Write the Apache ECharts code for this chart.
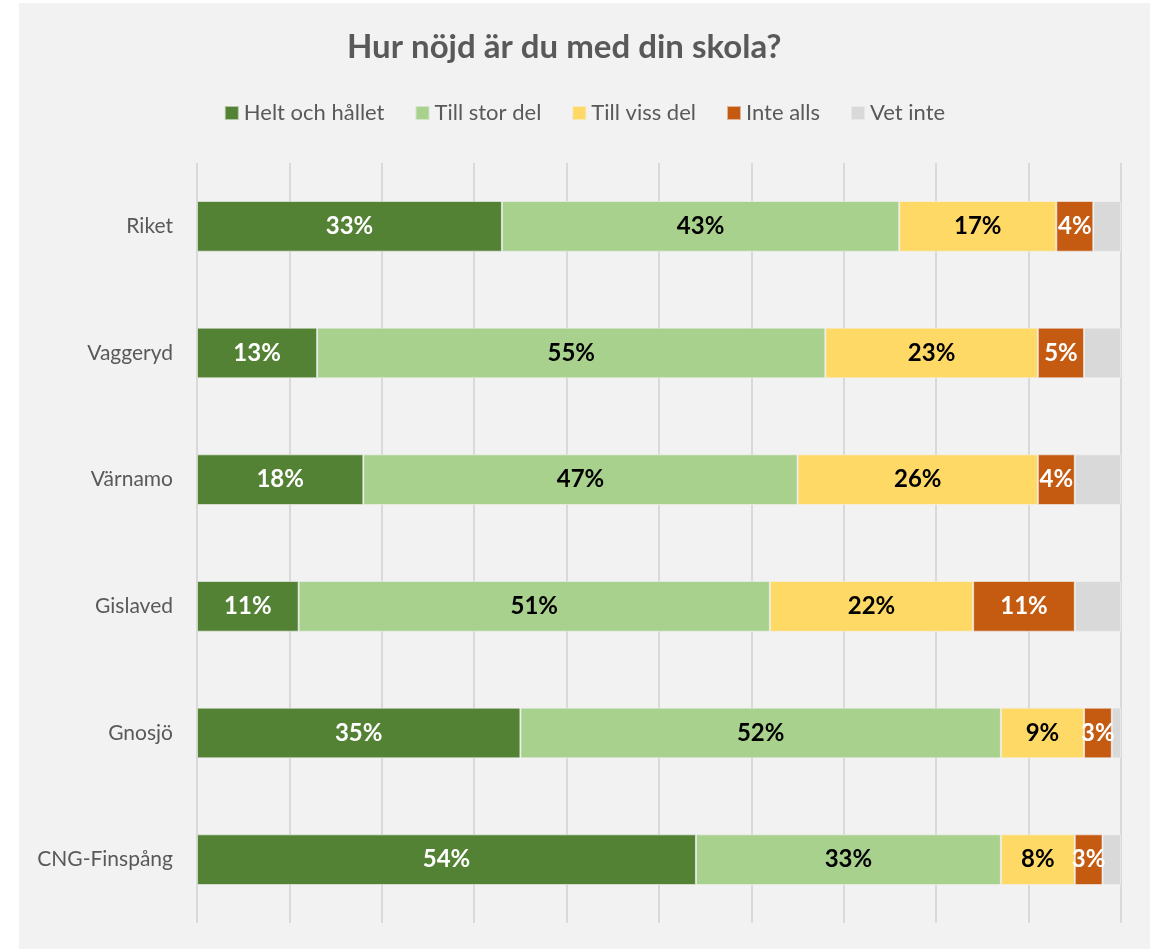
<!DOCTYPE html>
<html>
<head>
<meta charset="utf-8">
<script src="https://cdn.jsdelivr.net/npm/echarts@6/dist/echarts.min.js"></script>
<style>
  html, body { margin: 0; padding: 0; background: #ffffff; }
  #panel { position: absolute; left: 19px; top: 3px; width: 1131px; height: 946px; background: #f2f2f2; }
  #chart { width: 100%; height: 100%; }
</style>
</head>
<body>
<div id="panel"><div id="chart"></div></div>
<script>
// Survey answers per school, in percent
const categories = ['Riket', 'Vaggeryd', 'Värnamo', 'Gislaved', 'Gnosjö', 'CNG-Finspång'];
const seriesNames = ['Helt och hållet', 'Till stor del', 'Till viss del', 'Inte alls', 'Vet inte'];
const heltOchHallet = [33, 13, 18, 11, 35, 54];
const tillStorDel   = [43, 55, 47, 51, 52, 33];
const tillVissDel   = [17, 23, 26, 22, 9, 8];
const inteAlls      = [4, 5, 4, 11, 3, 3];
const vetInte       = [3, 4, 5, 5, 1, 2];

const colors = ['#548235', '#A9D18E', '#FFD966', '#C55A11', '#D9D9D9'];
const labelColors = ['#ffffff', '#000000', '#000000', '#ffffff', null];
const values = [heltOchHallet, tillStorDel, tillVissDel, inteAlls, vetInte];

// Categories read top to bottom, so reverse for the category axis
const cats = categories.slice().reverse();

const series = seriesNames.map((name, i) => ({
  name: name,
  type: 'bar',
  stack: 'total',
  barCategoryGap: '60%',
  data: values[i].slice().reverse(),
  itemStyle: { color: colors[i], borderColor: 'rgba(242,242,242,0.6)', borderWidth: 1 },
  label: {
    show: labelColors[i] !== null,
    position: 'inside',
    formatter: p => p.value + '%',
    color: labelColors[i] || '#000',
    fontFamily: 'Lato, "Open Sans", sans-serif',
    fontWeight: 'bold',
    fontSize: 24
  },
  emphasis: { disabled: true }
}));

const chart = echarts.init(document.getElementById('chart'), null, { renderer: 'canvas' });
chart.setOption({
  backgroundColor: '#f2f2f2',
  animation: false,
  title: {
    text: 'Hur nöjd är du med din skola?',
    left: 323,
    top: 23,
    textStyle: { fontFamily: 'Lato, "Open Sans", sans-serif', fontWeight: 'bold', fontSize: 33, color: '#595959' }
  },
  legend: {
    top: 94,
    left: 'center',
    icon: 'rect',
    itemWidth: 14,
    itemHeight: 14,
    itemGap: 30,
    textStyle: { fontFamily: 'Lato, "Open Sans", sans-serif', fontSize: 22, color: '#595959' },
    data: seriesNames
  },
  grid: { left: 178, top: 160, width: 924, height: 760 },
  xAxis: {
    type: 'value',
    min: 0,
    max: 100,
    interval: 10,
    axisLabel: { show: false },
    axisLine: { show: false },
    axisTick: { show: false },
    splitLine: { show: true, lineStyle: { color: '#d9d9d9', width: 2 } }
  },
  yAxis: {
    type: 'category',
    data: cats,
    axisLine: { show: false },
    axisTick: { show: false },
    axisLabel: {
      margin: 24,
      fontFamily: 'Lato, "Open Sans", sans-serif',
      fontSize: 21,
      color: '#595959'
    }
  },
  series: series
});
</script>
</body>
</html>
